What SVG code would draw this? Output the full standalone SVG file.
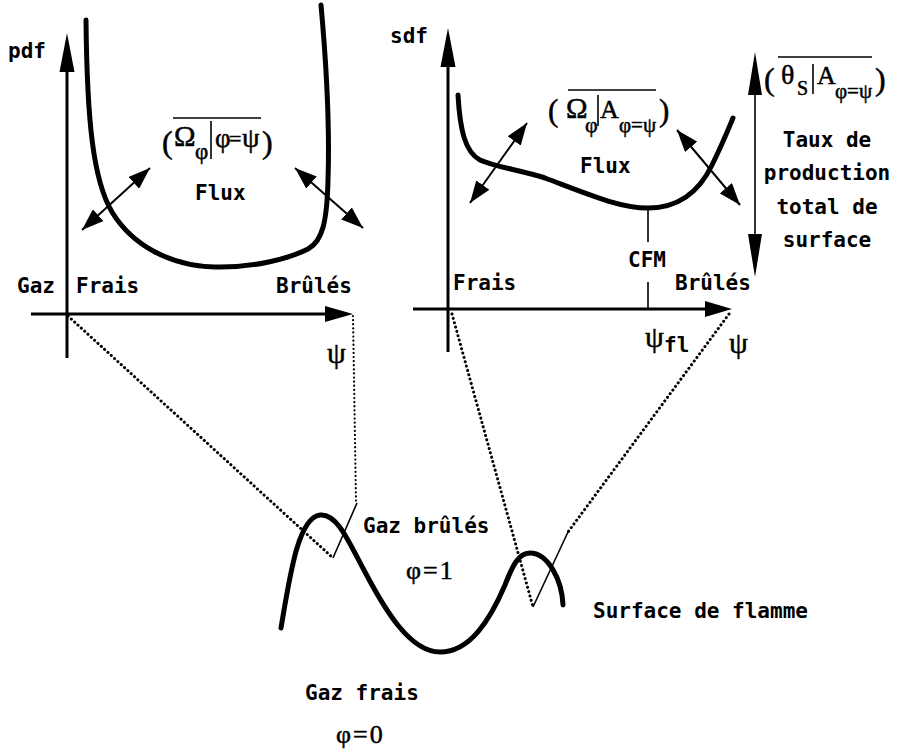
<svg xmlns="http://www.w3.org/2000/svg" width="910" height="752" viewBox="0 0 910 752">
<style>
.mono{font-family:"DejaVu Sans Mono","Liberation Mono",monospace;font-weight:bold;font-size:21px;fill:#000}
.serif{font-family:"Liberation Serif","Times New Roman",serif;fill:#000;stroke:#000;stroke-width:0.5}
.axis{stroke:#000;stroke-width:3;fill:none}
.curve{stroke:#000;stroke-width:5;fill:none;stroke-linecap:round}
.thin{stroke:#000;stroke-width:1.6;fill:none}
.flux{stroke:#000;stroke-width:2;fill:none;marker-start:url(#ah);marker-end:url(#ah)}
.dot{stroke:#000;stroke-width:3;fill:none;stroke-dasharray:0.1 4.4;stroke-linecap:round}
.dotthin{stroke:#000;stroke-width:2.2;fill:none;stroke-dasharray:0.1 4;stroke-linecap:round}
.head{fill:#000}
</style>
<defs>
<marker id="ah" markerUnits="userSpaceOnUse" markerWidth="24" markerHeight="16" refX="22" refY="8" orient="auto-start-reverse">
<path d="M0,0 L22,8 L0,16 z" fill="#000"/>
</marker>
</defs>

<g id="pdf-plot">
<line class="axis" x1="67" y1="60" x2="67" y2="358"/>
<polygon class="head" points="67,33 59.5,72 74.5,72"/>
<line class="axis" x1="31" y1="314" x2="330" y2="314"/>
<polygon class="head" points="353,314 325,306 325,322"/>
<path class="curve" d="M86,20 C87,120 93,180 112,212 C132,245 170,266 215,267 C255,268 290,258 308,249 C323,241 327,220 328,180 C330,120 326,60 321,5"/>
<line class="flux" x1="82" y1="230" x2="150" y2="168"/>
<line class="flux" x1="295" y1="168" x2="363" y2="228"/>
<text class="mono" x="8" y="58">pdf</text>
<text class="mono" x="17" y="293">Gaz</text>
<text class="mono" x="76" y="293">Frais</text>
<text class="mono" x="276" y="293">Brûlés</text>
<text class="mono" x="195" y="200">Flux</text>
<text class="serif" x="327" y="363" font-size="30">ψ</text>
<g id="label-omega-pdf">
<line class="thin" x1="173" y1="118" x2="261" y2="118"/>
<text class="serif" x="162" y="153" font-size="32">(</text>
<text class="serif" x="174" y="146" font-size="29">Ω</text>
<text class="serif" x="195" y="159" font-size="23">φ</text>
<line class="thin" x1="211" y1="121" x2="211" y2="159"/>
<text class="serif" x="215" y="147" font-size="27">φ</text>
<text class="serif" x="229" y="146" font-size="22">=</text>
<text class="serif" x="242" y="147" font-size="28">ψ</text>
<text class="serif" x="262" y="153" font-size="32">)</text>
</g>
</g>

<g id="sdf-plot">
<line class="axis" x1="448" y1="55" x2="448" y2="352"/>
<polygon class="head" points="448,28 440.5,67 455.5,67"/>
<line class="axis" x1="413" y1="309" x2="710" y2="309"/>
<polygon class="head" points="732,309 705,301 705,317"/>
<path class="curve" d="M458,95 C460,130 465,152 480,160 C495,167 520,170 545,178 C590,195 620,208 648,208 C680,208 700,190 712,165 C722,145 728,130 733,118"/>
<line class="flux" x1="470" y1="203" x2="527" y2="123"/>
<line class="flux" x1="677" y1="130" x2="740" y2="205"/>
<line class="thin" x1="648" y1="208" x2="648" y2="242"/>
<line class="thin" x1="648" y1="282" x2="648" y2="309"/>
<text class="mono" x="390" y="43">sdf</text>
<text class="mono" x="453" y="290">Frais</text>
<text class="mono" x="675" y="290">Brûlés</text>
<text class="mono" x="628" y="267">CFM</text>
<text class="mono" x="580" y="173">Flux</text>
<text class="serif" x="645" y="347" font-size="30">ψ</text>
<text class="mono" x="664" y="352" font-size="16">fl</text>
<text class="serif" x="729" y="353" font-size="30">ψ</text>
<g id="label-omega-sdf">
<line class="thin" x1="568" y1="90" x2="656" y2="90"/>
<text class="serif" x="548" y="121" font-size="31">(</text>
<text class="serif" x="566" y="118" font-size="29">Ω</text>
<text class="serif" x="585" y="132" font-size="22">φ</text>
<line class="thin" x1="598" y1="95" x2="598" y2="126"/>
<text class="serif" x="600" y="118" font-size="26">A</text>
<text class="serif" x="619" y="132" font-size="21">φ=ψ</text>
<text class="serif" x="659" y="121" font-size="31">)</text>
</g>
</g>

<g id="production-rate">
<line class="thin" x1="755" y1="85" x2="755" y2="245" stroke-width="2"/>
<polygon class="head" points="755,52 748,95 762,95"/>
<polygon class="head" points="755,277 748,234 762,234"/>
<g id="label-theta">
<line class="thin" x1="778" y1="57" x2="872" y2="57"/>
<text class="serif" x="764" y="90" font-size="32">(</text>
<text class="serif" x="781" y="84" font-size="28">θ</text>
<text class="serif" x="797" y="95" font-size="20">S</text>
<line class="thin" x1="813" y1="64" x2="813" y2="94"/>
<text class="serif" x="817" y="84" font-size="26">A</text>
<text class="serif" x="835" y="98" font-size="21">φ=ψ</text>
<text class="serif" x="875" y="90" font-size="32">)</text>
</g>
<text class="mono" text-anchor="middle" x="827" y="147">Taux de</text>
<text class="mono" text-anchor="middle" x="827" y="180">production</text>
<text class="mono" text-anchor="middle" x="827" y="214">total de</text>
<text class="mono" text-anchor="middle" x="827" y="247">surface</text>
</g>

<g id="connectors">
<line class="dot" x1="68" y1="316" x2="333" y2="558"/>
<line class="dotthin" x1="353" y1="316" x2="356" y2="502"/>
<line class="dot" x1="452" y1="314" x2="533" y2="607"/>
<line class="dot" x1="729" y1="314" x2="568" y2="532"/>
</g>

<g id="flame">
<path class="curve" d="M281,628 C290,575 298,518 320,515 C338,513 350,545 365,572 C385,610 410,652 440,652 C470,652 490,620 505,585 C512,567 518,553 530,553 C548,553 562,580 563,605"/>
<line class="thin" stroke-width="2.6" x1="333" y1="558" x2="357" y2="503"/>
<line class="thin" stroke-width="2.6" x1="533" y1="607" x2="568" y2="532"/>
<text class="mono" x="363" y="533">Gaz brûlés</text>
<text class="serif" x="406" y="579" font-size="26" letter-spacing="2">φ=1</text>
<text class="mono" x="305" y="700">Gaz frais</text>
<text class="serif" x="336" y="743" font-size="26" letter-spacing="2">φ=0</text>
<text class="mono" x="593" y="618" font-size="21.5">Surface de flamme</text>
</g>
</svg>
